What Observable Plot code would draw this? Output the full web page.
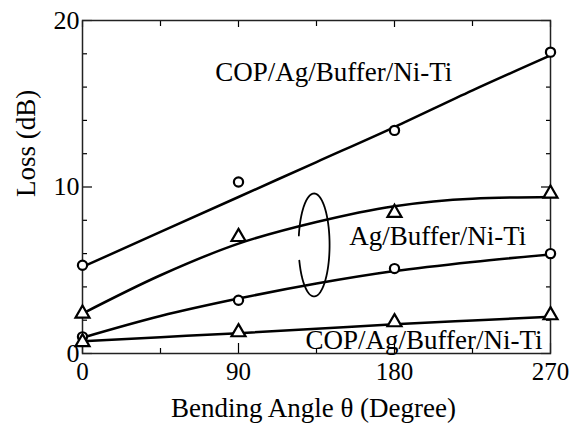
<!DOCTYPE html>
<html><head><meta charset="utf-8">
<script src="https://cdn.jsdelivr.net/npm/d3@7"></script>
<script src="https://cdn.jsdelivr.net/npm/@observablehq/plot@0.6"></script>
<style>
body{margin:0;background:#fff}
svg, svg text { font-family: "Liberation Serif", "DejaVu Serif", serif !important; }
</style>
</head><body><div id="chart"></div>
<script>
// measured points
const angles = [0, 90, 180, 270];
const copCircles = [5.3, 10.3, 13.4, 18.1];
const agTriangles = [2.4, 7.0, 8.45, 9.6];
const agCircles = [1.0, 3.2, 5.1, 6.0];
const copTriangles = [0.68, 1.28, 1.88, 2.3];
// fitted curves
const fitAngles = [0, 45, 90, 135, 180, 225, 270];
const fitCopTop = [5.2, 7.3, 9.4, 11.5, 13.6, 15.8, 17.9];
const fitAgTop = [2.4, 4.7, 6.6, 7.9, 8.85, 9.3, 9.4];
const fitAgBottom = [0.95, 2.25, 3.3, 4.2, 4.95, 5.5, 5.95];
const fitCopBottom = [0.74, 0.98, 1.22, 1.48, 1.75, 1.98, 2.2];
// ticks
const xTicks = [0, 90, 180, 270];
const xMinor = [45, 135, 225];
const yTicks = [0, 10, 20];
const yMinor = [2, 4, 6, 8, 12, 14, 16, 18];
// annotations
const labelText = ["COP/Ag/Buffer/Ni-Ti", "Ag/Buffer/Ni-Ti", "COP/Ag/Buffer/Ni-Ti"];
const labelX = [145, 205, 197];
const labelY = [16.9, 7.03, 0.78];
const ellipse = {cx: 133.6, cy: 6.52, rx: 8.94, ry: 3.09, from: 3.45, to: 9.24};

const font = "Liberation Serif, DejaVu Serif, serif";
const ellipseT = d3.range(ellipse.from, ellipse.to, 0.02).concat([ellipse.to]);

const lineOpts = {curve: "monotone-x", stroke: "black", strokeWidth: 2.5};
const circOpts = {symbol: "circle", r: 4.6, stroke: "black", strokeWidth: 2.2, fill: "white"};
const triOpts = {symbol: "triangle", r: 5.2, stroke: "black", strokeWidth: 2.2, fill: "white"};

const plot = Plot.plot({
  width: 570, height: 427,
  marginLeft: 82, marginRight: 20, marginTop: 20, marginBottom: 74,
  style: {fontFamily: font, background: "white", color: "black", overflow: "visible"},
  x: {domain: [0, 270]},
  y: {domain: [0, 20]},
  marks: [
    // tick labels
    Plot.axisX(xTicks, {anchor: "bottom", tickSize: 0, tickPadding: 9, fontSize: 25, fontFamily: font, label: null, tickFormat: d3.format("d")}),
    Plot.axisY(yTicks, {anchor: "left", tickSize: 0, tickPadding: 3, fontSize: 26, fontFamily: font, label: null, tickFormat: d3.format("d")}),
    // inward ticks
    Plot.axisX(xTicks, {anchor: "bottom", tickSize: -10, fill: "none", label: null, strokeWidth: 1.2}),
    Plot.axisX(xMinor, {anchor: "bottom", tickSize: -5, fill: "none", label: null, strokeWidth: 1.2}),
    Plot.axisX(xTicks, {anchor: "top", tickSize: -6, fill: "none", label: null, strokeWidth: 1.2}),
    Plot.axisX(xMinor, {anchor: "top", tickSize: -5, fill: "none", label: null, strokeWidth: 1.2}),
    Plot.axisY(yTicks, {anchor: "left", tickSize: -10, fill: "none", label: null, strokeWidth: 1.2}),
    Plot.axisY(yMinor, {anchor: "left", tickSize: -5, fill: "none", label: null, strokeWidth: 1.2}),
    Plot.axisY(yTicks, {anchor: "right", tickSize: -10, fill: "none", label: null, strokeWidth: 1.2}),
    Plot.axisY(yMinor, {anchor: "right", tickSize: -5, fill: "none", label: null, strokeWidth: 1.2}),
    Plot.frame({stroke: "#222", strokeWidth: 1.5}),
    // fitted curves
    Plot.line(fitAngles, {x: fitAngles, y: fitCopTop, ...lineOpts}),
    Plot.line(fitAngles, {x: fitAngles, y: fitAgTop, ...lineOpts}),
    Plot.line(fitAngles, {x: fitAngles, y: fitAgBottom, ...lineOpts}),
    Plot.line(fitAngles, {x: fitAngles, y: fitCopBottom, ...lineOpts}),
    // ellipse grouping annotation
    Plot.line(ellipseT, {x: t => ellipse.cx + ellipse.rx * Math.cos(t), y: t => ellipse.cy + ellipse.ry * Math.sin(t), stroke: "black", strokeWidth: 1.8, curve: "linear"}),
    // markers
    Plot.dot(angles, {x: angles, y: copCircles, ...circOpts}),
    Plot.dot(angles, {x: angles, y: agCircles, ...circOpts}),
    Plot.dot(angles, {x: angles, y: agTriangles, ...triOpts}),
    Plot.dot(angles, {x: angles, y: copTriangles, ...triOpts}),
    // labels
    Plot.text(labelText, {x: labelX, y: labelY, text: d => d, fontSize: 27, fontFamily: font, fill: "black"}),
    Plot.text(["Bending Angle θ (Degree)"], {frameAnchor: "bottom", dx: -3, dy: 63, fontSize: 27, fontFamily: font, fill: "black"}),
    Plot.text(["Loss (dB)"], {frameAnchor: "left", dx: -56, dy: 10, rotate: -90, fontSize: 27, fontFamily: font, fill: "black"})
  ]
});
document.getElementById("chart").appendChild(plot);
</script>
</body></html>
